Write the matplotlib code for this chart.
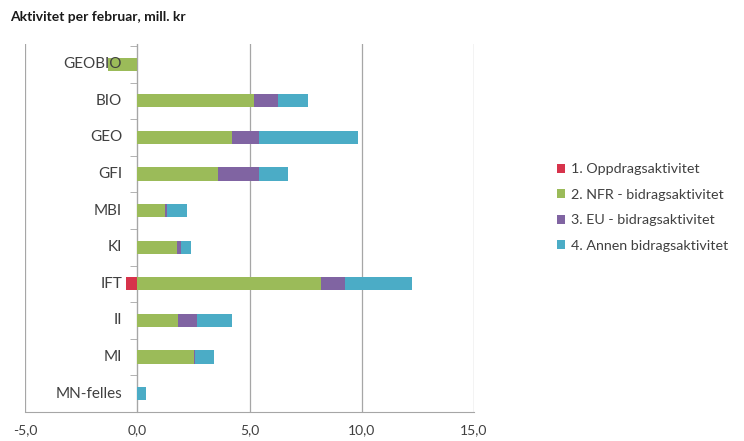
import numpy as np
import matplotlib.pyplot as plt
from matplotlib.ticker import FuncFormatter, FixedLocator

plt.rcParams['font.family'] = ['Lato', 'DejaVu Sans']

enheter = ['GEOBIO', 'BIO', 'GEO', 'GFI', 'MBI', 'KI', 'IFT', 'II', 'MI', 'MN-felles']
oppdrag = [0.0, 0.0, 0.0, 0.0, 0.0, 0.0, -0.5, 0.0, 0.0, 0.0]
nfr = [-1.3, 5.2, 4.2, 3.6, 1.25, 1.75, 8.2, 1.8, 2.5, 0.0]
eu = [0.0, 1.05, 1.2, 1.8, 0.05, 0.2, 1.05, 0.85, 0.05, 0.0]
annen = [0.0, 1.35, 4.45, 1.3, 0.9, 0.45, 3.0, 1.55, 0.85, 0.4]

serier = [oppdrag, nfr, eu, annen]
navn = ['1. Oppdragsaktivitet', '2. NFR - bidragsaktivitet',
        '3. EU - bidragsaktivitet', '4. Annen bidragsaktivitet']
farger = ['#D7334B', '#9BBB59', '#8064A2', '#4BACC6']

fig = plt.figure(figsize=(7.44, 4.41), dpi=100)
ax = fig.add_axes([0.034, 0.066, 0.603, 0.834])

y = np.arange(len(enheter))
pos = np.zeros(len(enheter))
neg = np.zeros(len(enheter))
for vals, n, c in zip(serier, navn, farger):
    v = np.array(vals)
    left = np.where(v >= 0, pos, neg)
    ax.barh(y, v, left=left, height=0.36, color=c, label=n, zorder=3)
    pos = pos + np.where(v >= 0, v, 0)
    neg = neg + np.where(v < 0, v, 0)

ax.set_xlim(-5, 15)
ax.set_ylim(9.5, -0.55)
ax.set_xticks([-5, 0, 5, 10, 15])
ax.xaxis.set_major_formatter(FuncFormatter(lambda x, p: ('%.1f' % x).replace('.', ',')))
ax.tick_params(axis='x', length=0, labelsize=10, colors='#404040', pad=9)
ax.grid(axis='x', color='#A6A6A6', lw=0.9, zorder=0)

ax.spines['left'].set_position(('data', 0))
ax.spines['left'].set_color('#A6A6A6')
ax.spines['bottom'].set_color('#A6A6A6')
ax.spines['top'].set_visible(False)
ax.spines['right'].set_visible(False)

# kategorinavn ved aksen, tegnet over stolpene
ax.set_yticks(y)
ax.set_yticklabels([])
ax.tick_params(axis='y', which='major', length=0)
for yi, e in zip(y, enheter):
    ax.annotate(e, xy=(0, yi), xytext=(-11, 0), textcoords='offset points',
                ha='right', va='center', fontsize=11, color='#404040', zorder=5)
ax.yaxis.set_minor_locator(FixedLocator(np.arange(-0.5, 10, 1)))
ax.tick_params(axis='y', which='minor', length=5, color='#A6A6A6')

fig.text(0.013, 0.953, 'Aktivitet per februar, mill. kr', fontsize=10, fontweight='bold', color='#1a1a1a')

fig.legend(loc='upper left', bbox_to_anchor=(0.748, 0.63), frameon=False, fontsize=10.3,
           handlelength=0.6, handleheight=0.6, handletextpad=0.4, labelspacing=0.95,
           borderpad=0, borderaxespad=0, labelcolor='#404040')

fig.savefig('out.png', dpi=100)
